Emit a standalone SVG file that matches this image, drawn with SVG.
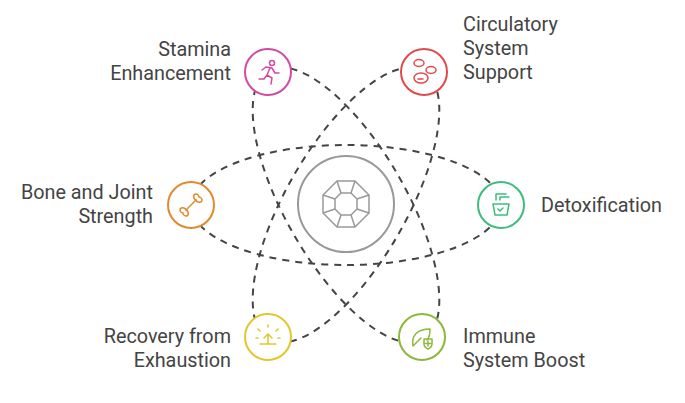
<svg xmlns="http://www.w3.org/2000/svg" width="685" height="403" viewBox="0 0 685 403">
<style>
.c{fill:none;stroke:#444;stroke-width:2;stroke-dasharray:7 6}
.n{fill:#fff;stroke-width:2}
.t{font-family:"Roboto","Liberation Sans",sans-serif;font-size:19.8px;fill:#444}
.r{text-anchor:end}
.i{fill:none;stroke-width:1.5;stroke-linecap:round;stroke-linejoin:round}
</style>
<rect width="685" height="403" fill="#fff"/>
<g id="connectors">
<ellipse class="c" cx="346" cy="205" rx="155" ry="60"/>
<ellipse class="c" cx="346" cy="205" rx="155" ry="60" transform="rotate(60 346 205)"/>
<ellipse class="c" cx="346" cy="205" rx="155" ry="60" transform="rotate(-60 346 205)"/>
</g>
<g id="center">
<circle cx="346" cy="204" r="48" fill="#fff" stroke="#999" stroke-width="2"/>
<g fill="none" stroke="#999" stroke-width="1.5">
<polygon points="355,181 369,195 369,213 355,227 337,227 323,213 323,195 337,181"/>
<polygon points="351,193 357,199 357,209 351,215 341,215 335,209 335,199 341,193"/>
<path d="M355,181L351,193M369,195L357,199M369,213L357,209M355,227L351,215M337,227L341,215M323,213L335,209M323,195L335,199M337,181L341,193"/>
</g>
</g>
<g id="stamina">
<circle class="n" cx="268" cy="72" r="23" stroke="#d14aa4"/>
<g class="i" stroke="#d14aa4"><circle cx="272" cy="63" r="2.5"/><path d="M262,70l4,-3 6,1 3,5 4,0M270,68l-3,7 5,3 -1,6M267,75l-3,4 -5,0"/></g>
<text class="t r" x="231" y="56">Stamina</text><text class="t r" x="231" y="80">Enhancement</text>
</g>
<g id="circulatory">
<circle class="n" cx="424" cy="72" r="23" stroke="#e04a4a"/>
<g class="i" stroke="#e04a4a"><ellipse cx="419" cy="63" rx="5" ry="3.5"/><ellipse cx="431" cy="70" rx="5" ry="3.5"/><ellipse cx="421" cy="78" rx="7" ry="5"/><path d="M418,79h5"/></g>
<text class="t" x="463" y="31">Circulatory</text><text class="t" x="463" y="55">System</text><text class="t" x="463" y="79">Support</text>
</g>
<g id="bone">
<circle class="n" cx="191" cy="205" r="23" stroke="#e08a2c"/>
<g class="i" stroke="#e08a2c"><path d="M186,210L196,200"/><path d="M186,210c-1,-3 -6,-3 -6,0c0,2 2,3 3,3c0,1 1,3 3,3c3,0 3,-5 0,-6z"/><path d="M196,200c1,3 6,3 6,0c0,-2 -2,-3 -3,-3c0,-1 -1,-3 -3,-3c-3,0 -3,5 0,6z"/></g>
<text class="t r" x="153" y="199">Bone and Joint</text><text class="t r" x="153" y="223">Strength</text>
</g>
<g id="detox">
<circle class="n" cx="501" cy="205" r="23" stroke="#3dbd7d"/>
<g class="i" stroke="#3dbd7d"><path d="M493,204h16l-2,11h-12zM496,200v-6h10M500,200v-3h9M498,209l2,2 3,-3"/></g>
<text class="t" x="541" y="212">Detoxification</text>
</g>
<g id="recovery">
<circle class="n" cx="268" cy="337" r="23" stroke="#e0c72b"/>
<g class="i" stroke="#e0c72b"><path d="M260,344h16M268,344v-10M264,338l4,-4 4,4M268,327v-2M260,331l-2,-2M276,331l2,-2M258,338h-2M280,338h-2"/></g>
<text class="t r" x="231" y="343">Recovery from</text><text class="t r" x="231" y="367">Exhaustion</text>
</g>
<g id="immune">
<circle class="n" cx="422" cy="337" r="23" stroke="#8db83a"/>
<g class="i" stroke="#8db83a"><path d="M413,346c-2,-10 4,-17 17,-17c0,6 -1,9 -3,11M413,346l8,-8"/><path d="M424,339h8v5c0,3 -4,5 -4,5c0,0 -4,-2 -4,-5zM428,341v5M425.5,343.5h5"/></g>
<text class="t" x="463" y="343">Immune</text><text class="t" x="463" y="367">System Boost</text>
</g>
</svg>
